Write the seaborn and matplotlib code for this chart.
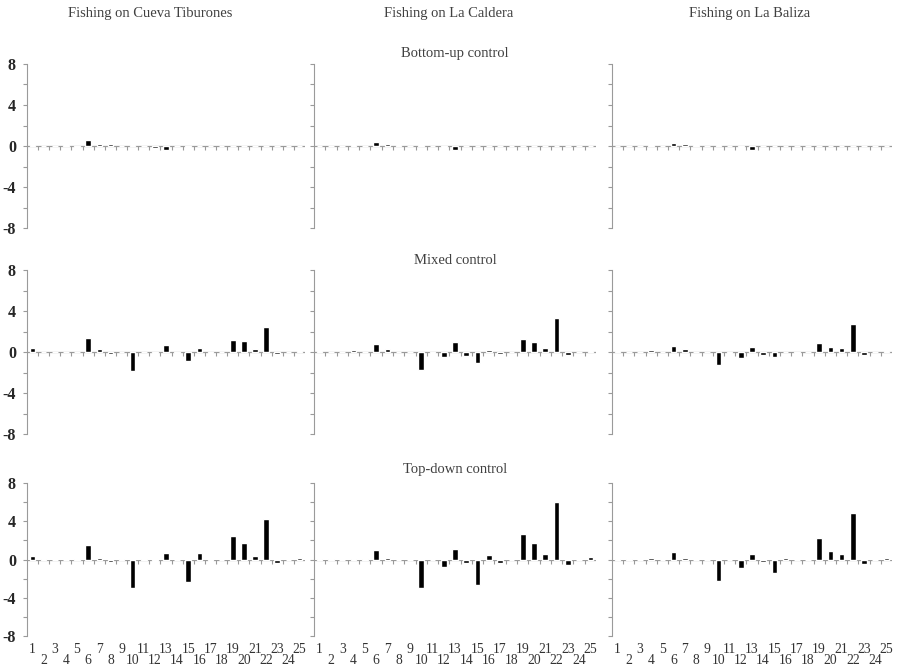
import numpy as np
import pandas as pd
import matplotlib
matplotlib.use("Agg")
import matplotlib.pyplot as plt
from matplotlib.ticker import FixedLocator
import seaborn as sns

# groups on the x axis
groups = [str(i) for i in range(1, 26)]

sites = ["Cueva Tiburones", "La Caldera", "La Baliza"]
controls = ["Bottom-up control", "Mixed control", "Top-down control"]

# Bottom-up control
bu_cueva = [0.1, 0, 0, 0.05, -0.05, 0.55, 0.15, 0.15, 0, 0.05, 0, -0.15, -0.35, 0, -0.05,
            0, 0, 0, 0, 0, 0, 0, 0, 0, 0]
bu_caldera = [0, 0, 0, 0.05, -0.03, 0.35, 0.2, 0.1, 0, 0.1, 0, -0.1, -0.4, 0, -0.03,
              0, 0, 0, 0, 0, 0, 0, 0, 0, 0]
bu_baliza = [0, 0, 0, 0.05, 0, 0.25, 0.2, 0.12, 0, 0.1, 0, -0.1, -0.35, 0, -0.03,
             0, 0, 0, 0, 0, 0, 0, 0, 0, 0]

# Mixed control
mx_cueva = [0.4, 0, 0, 0, 0, 1.35, 0.3, -0.15, 0, -1.85, 0, -0.1, 0.65, -0.1, -0.85,
            0.35, -0.1, 0, 1.2, 1.05, 0.3, 2.4, -0.15, 0, 0.05]
mx_caldera = [0.05, 0, 0, 0.15, 0, 0.8, 0.25, -0.03, 0, -1.8, -0.05, -0.5, 0.95, -0.35, -1.1,
              0.2, -0.15, 0, 1.3, 1.0, 0.35, 3.35, -0.3, 0, 0.05]
mx_baliza = [0.05, 0.02, 0, 0.22, 0, 0.6, 0.25, 0, 0, -1.3, -0.05, -0.6, 0.5, -0.3, -0.5,
             0, -0.1, 0, 0.9, 0.5, 0.35, 2.75, -0.25, 0, 0.05]

# Top-down control
td_cueva = [0.35, 0.05, 0, 0, 0.05, 1.5, 0.15, -0.25, 0.03, -3.0, 0.05, -0.15, 0.7, -0.05, -2.35,
            0.65, -0.15, 0, 2.5, 1.7, 0.4, 4.2, -0.35, 0, 0.15]
td_caldera = [0.05, 0.02, 0, 0.08, 0.03, 0.95, 0.18, -0.05, 0, -3.0, -0.03, -0.78, 1.05, -0.4, -2.65,
              0.42, -0.35, 0, 2.7, 1.7, 0.55, 6.0, -0.55, 0, 0.25]
td_baliza = [0.05, 0.03, 0, 0.2, 0, 0.8, 0.15, -0.03, -0.02, -2.2, -0.03, -0.85, 0.55, -0.3, -1.4,
             0.15, -0.1, 0, 2.2, 0.9, 0.55, 4.85, -0.45, 0, 0.2]

table = {
    ("Bottom-up control", "Cueva Tiburones"): bu_cueva,
    ("Bottom-up control", "La Caldera"): bu_caldera,
    ("Bottom-up control", "La Baliza"): bu_baliza,
    ("Mixed control", "Cueva Tiburones"): mx_cueva,
    ("Mixed control", "La Caldera"): mx_caldera,
    ("Mixed control", "La Baliza"): mx_baliza,
    ("Top-down control", "Cueva Tiburones"): td_cueva,
    ("Top-down control", "La Caldera"): td_caldera,
    ("Top-down control", "La Baliza"): td_baliza,
}
rows = []
for (ctrl, site), vals in table.items():
    for g, v in zip(groups, vals):
        rows.append({"control": ctrl, "site": site, "group": g, "value": v})
df = pd.DataFrame(rows)

sns.set_style("white")
plt.rcParams["font.family"] = ["Liberation Serif", "DejaVu Serif"]

W, H = 899, 666
fig = plt.figure(figsize=(W / 100, H / 100), dpi=100)

# panel boxes in pixels (left, right) and (top, bottom)
col_px = [(27, 305), (314, 596), (612, 892)]
row_px = [(64, 228), (270, 434), (483, 636)]
gray = "#9a9a9a"

for r, ctrl in enumerate(controls):
    for c, site in enumerate(sites):
        x0, x1 = col_px[c]
        y0, y1 = row_px[r]
        ax = fig.add_axes([x0 / W, 1 - y1 / H, (x1 - x0) / W, (y1 - y0) / H])
        sub = df[(df.control == ctrl) & (df.site == site)]
        ax.axhline(0, color=gray, lw=0.9, zorder=0)
        sns.barplot(data=sub, x="group", y="value", order=groups, color="black",
                    width=0.5, errorbar=None, saturation=1, ax=ax, zorder=2)
        ax.set_xlim(-0.5, 24.5)
        ax.set_ylim(-8, 8)
        ax.set_xlabel("")
        ax.set_ylabel("")
        for s in ["top", "right", "bottom"]:
            ax.spines[s].set_visible(False)
        ax.spines["left"].set_color(gray)
        ax.yaxis.set_major_locator(FixedLocator([-8, -4, 0, 4, 8]))
        ax.yaxis.set_minor_locator(FixedLocator([-6, -2, 2, 6]))
        ax.tick_params(axis="y", which="both", direction="out", length=3, color=gray,
                       left=True, width=0.8)
        if c == 0:
            ax.set_yticklabels(["-8", "-4", "0", "4", "8"], fontweight="bold", fontsize=11.5)
            ax.tick_params(axis="y", pad=5)
        else:
            ax.tick_params(axis="y", labelleft=False)

        # tick marks on the zero line at category boundaries
        zl = ax.secondary_xaxis(0.5)
        zl.set_alignment("bottom")
        for s in zl.spines.values():
            s.set_visible(False)
        zl.set_xticks(np.arange(0.5, 24.5, 1))
        zl.tick_params(axis="x", direction="out", length=3, color=gray, width=0.8,
                       labelbottom=False, labeltop=False)

        # odd group labels on first line, even group labels on second line
        ax.set_xticks(range(0, 25, 2))
        if r == 2:
            ax.set_xticklabels(groups[0::2], fontsize=9.8, color="#333333")
            ax.tick_params(axis="x", length=0, pad=5)
            ev = ax.secondary_xaxis("bottom")
            for s in ev.spines.values():
                s.set_visible(False)
            ev.set_xticks(range(1, 25, 2))
            ev.set_xticklabels(groups[1::2], fontsize=9.8, color="#333333")
            ev.tick_params(axis="x", length=0, pad=13)
        else:
            ax.tick_params(axis="x", length=0, labelbottom=False)

# column titles
for site, xc in zip(sites, [150, 449, 750]):
    fig.text(xc / W, 1 - 14 / H, "Fishing on " + site, ha="center", va="center",
             fontsize=10.5, color="#404040")

# row titles
for ctrl, yc in zip(controls, [54, 260, 469]):
    fig.text(455 / W, 1 - yc / H, ctrl, ha="center", va="center", fontsize=10.5,
             color="#404040")

fig.savefig("out.png", dpi=100, facecolor="white")
